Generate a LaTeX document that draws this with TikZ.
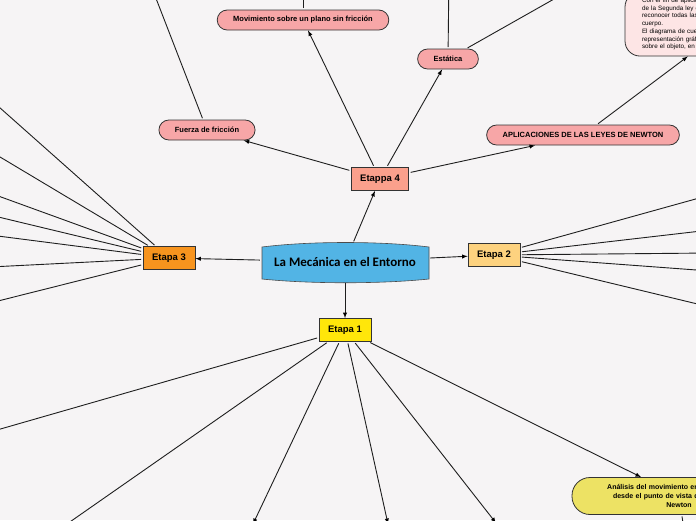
\documentclass[tikz,border=0pt]{standalone}
\usepackage{fontspec}
\setmainfont{Liberation Sans}
\newfontfamily\titlefont{Carlito}
\usetikzlibrary{calc,arrows,shapes}
\definecolor{fondo}{RGB}{246,244,245}
\definecolor{azul}{RGB}{82,180,229}
\definecolor{salmon}{RGB}{250,160,140}
\definecolor{naranja}{RGB}{247,148,30}
\definecolor{ambar}{RGB}{253,210,127}
\definecolor{oro}{RGB}{255,230,10}
\definecolor{rosa}{RGB}{247,166,167}
\definecolor{rosaclaro}{RGB}{253,229,229}
\definecolor{limon}{RGB}{237,226,100}
\definecolor{trazo}{RGB}{30,30,30}

\begin{document}
\begin{tikzpicture}[x=1pt,y=-1pt,>=latex,
    etapa/.style={draw=black!80,line width=0.8pt,minimum height=23pt,minimum width=52pt,inner xsep=9pt,font=\fontsize{9.5}{11}\selectfont\bfseries},
    tema/.style={draw=black!80,line width=0.8pt,rounded corners=10pt,minimum height=20pt,inner xsep=16pt,fill=rosa,font=\fontsize{7.5}{9}\selectfont\bfseries},
    rama/.style={draw=trazo,line width=0.9pt,shorten <=1.5pt}]
  \useasboundingbox (0,0) rectangle (696,520);
  \fill[fondo] (0,0) rectangle (696,520);

  % centro
  \filldraw[fill=azul,draw=black!70,line width=0.6pt] (262,247) .. controls (310,241) and (381,241) .. (429,247)
    -- (429,279) .. controls (381,284) and (310,284) .. (262,279) -- cycle;
  \node[minimum width=167pt,minimum height=38pt,font=\titlefont\fontsize{13}{15}\selectfont\bfseries] (root) at (345,262) {La Mecánica en el Entorno};

  % etapas
  \node[etapa,fill=salmon] (e4) at (380,179) {Etappa 4};
  \node[etapa,fill=naranja] (e3) at (169,258) {Etapa 3};
  \node[etapa,fill=ambar] (e2) at (494,255) {Etapa 2};
  \node[etapa,fill=oro] (e1) at (345,330) {Etapa 1};

  \path[rama,->] (root) edge (e4) edge (e3) edge (e2) edge (e1);

  % etapa 4
  \node[tema] (mov) at (303,20) {Movimiento sobre un plano sin fricción};
  \node[tema] (fric) at (207,130) {Fuerza de fricción};
  \node[tema] (est) at (448,59) {Estática};
  \node[tema] (apl) at (583,135) {APLICACIONES DE LAS LEYES DE NEWTON};
  \node[draw=black!80,line width=0.8pt,fill=rosaclaro,rounded corners=15pt,text width=178pt,inner xsep=17pt,inner ysep=6pt,align=left,font=\fontsize{6.3}{7.7}\selectfont] (nota) at (731,24) {%
    Con el fin de aplicar correctamente las leyes\\
    de la Segunda ley de Newton es necesario\\
    reconocer todas las fuerzas que actúan sobre un\\
    cuerpo.\\
    El diagrama de cuerpo libre es una\\
    representación gráfica de las fuerzas que actúan\\
    sobre el objeto, en un sistema de referencia.};

  \path[rama,->] (e4) edge (fric) edge (mov) edge (est) edge (apl);
  \path[rama,->] (apl) edge (nota);

  \coordinate (movArriba) at (303,-20);
  \coordinate (fricArriba) at (145,-30);
  \coordinate (estArriba) at (449,-30);
  \coordinate (estDerecha) at (623,-40);
  \draw[rama] (mov) -- (movArriba);
  \draw[rama] (fric) -- (fricArriba);
  \draw[rama] (est) -- (estArriba);
  \draw[rama] (est) -- (estDerecha);

  % etapa 3
  \foreach \y [count=\i] in {99,151,193,215,235,267,303} {
    \coordinate (izq\i) at (-10,\y);
    \draw[rama] (e3) -- (izq\i);
  }

  % etapa 2
  \foreach \y [count=\i] in {195,230,253,271,307} {
    \coordinate (der\i) at (710,\y);
    \draw[rama] (e2) -- (der\i);
  }

  % etapa 1
  \node[draw=black!80,line width=0.8pt,fill=limon,rounded corners=18pt,minimum height=37pt,minimum width=214pt,text width=190pt,align=center,font=\fontsize{7}{8.7}\selectfont\bfseries] (anal) at (679,496) {Análisis del movimiento en una dimensión\\desde el punto de vista de las leyes de\\Newton};
  \coordinate (abajo1) at (-10,432);
  \coordinate (abajo2) at (44,540);
  \coordinate (abajo3) at (253,524);
  \coordinate (abajo4) at (388,524);
  \coordinate (abajo5) at (496,523);
  \coordinate (analAbajo) at (684,530);
  \draw[rama] (e1) -- (abajo1);
  \draw[rama] (e1) -- (abajo2);
  \path[rama,->] (e1) edge (abajo3) edge (abajo4) edge (abajo5) edge (anal);
  \draw[rama,->] (anal) -- (analAbajo);
\end{tikzpicture}
\end{document}
